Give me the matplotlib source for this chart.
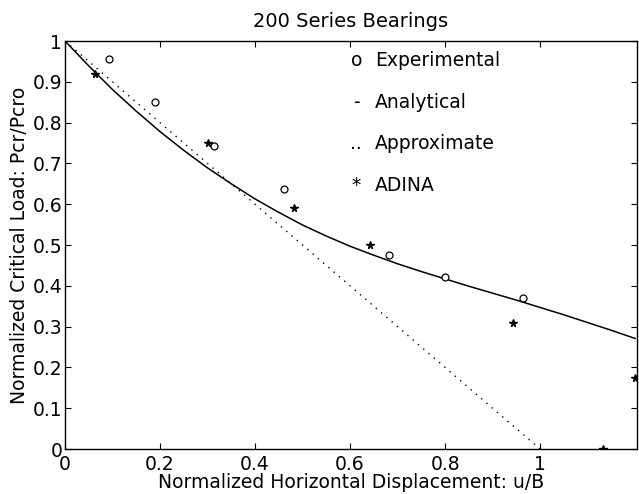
import matplotlib
matplotlib.use("Agg")
import matplotlib.pyplot as plt

plt.rcParams['font.family'] = ['DejaVu Sans']

# Experimental points (open circles)
exp_x = [0.092, 0.189, 0.313, 0.462, 0.683, 0.800, 0.963]
exp_y = [0.956, 0.850, 0.743, 0.637, 0.476, 0.422, 0.369]

# ADINA points (stars)
adina_x = [0.0625, 0.302, 0.481, 0.642, 0.942, 1.20, 1.133]
adina_y = [0.919, 0.751, 0.590, 0.500, 0.310, 0.175, 0.0]

# Analytical curve (solid), every 0.05
anal_x = [0.0, 0.05, 0.1, 0.15, 0.2, 0.25, 0.3, 0.35, 0.4, 0.45, 0.5, 0.55,
          0.6, 0.65, 0.7, 0.75, 0.8, 0.85, 0.9, 0.95, 1.0, 1.05, 1.1, 1.15, 1.2]
anal_y = [1.000, 0.939, 0.881, 0.828, 0.778, 0.732, 0.689, 0.650, 0.613,
          0.580, 0.549, 0.522, 0.497, 0.475, 0.454, 0.435, 0.417, 0.399,
          0.382, 0.365, 0.347, 0.329, 0.310, 0.291, 0.271]

# Approximate line (dotted)
approx_x = [0.0, 1.0]
approx_y = [1.0, 0.0]

legend_symbols = ['o', '-', '..', '*']
legend_labels = ['Experimental', 'Analytical', 'Approximate', 'ADINA']

xticks = [0, 0.2, 0.4, 0.6, 0.8, 1.0]
xtick_labels = ['0', '0.2', '0.4', '0.6', '0.8', '1']
yticks = [0, 0.1, 0.2, 0.3, 0.4, 0.5, 0.6, 0.7, 0.8, 0.9, 1.0]
ytick_labels = ['0', '0.1', '0.2', '0.3', '0.4', '0.5', '0.6', '0.7', '0.8', '0.9', '1']

fig = plt.figure(figsize=(6.39, 4.94), dpi=100)
ax = fig.add_axes([0.1017, 0.091, 0.8952, 0.826])

ax.plot(anal_x, anal_y, color='black', linewidth=1.1)
ax.plot(approx_x, approx_y, color='black', linewidth=1.0, linestyle=(0, (1, 4)))
ax.plot(exp_x, exp_y, linestyle='none', marker='o', markersize=5,
        markerfacecolor='white', markeredgecolor='black', markeredgewidth=0.9)
ax.plot(adina_x, adina_y, linestyle='none', marker='*', markersize=5.5,
        color='black')

ax.set_xlim(0, 1.204)
ax.set_ylim(0, 1)
ax.set_xticks(xticks)
ax.set_xticklabels(xtick_labels)
ax.set_yticks(yticks)
ax.set_yticklabels(ytick_labels)
ax.tick_params(direction='in', length=4, width=0.8, top=True, right=True,
               labelsize=13.5)
ax.tick_params(axis='y', pad=2)
ax.tick_params(axis='x', pad=4)
for s in ax.spines.values():
    s.set_linewidth(1.0)

ax.set_title('200 Series Bearings', fontsize=14, pad=10)
ax.set_xlabel('Normalized Horizontal Displacement: u/B', fontsize=13.5)
ax.xaxis.set_label_coords(0.5, -0.058)
ax.xaxis.label.set_va('top')
ax.set_ylabel('Normalized Critical Load: Pcr/Pcro', fontsize=13.5)
ax.yaxis.set_label_coords(-0.079, 0.5)
ax.yaxis.label.set_va('center')

# MATLAB-style text legend
row_y = [0.953, 0.850, 0.748, 0.645]
for sym, lab, yy in zip(legend_symbols, legend_labels, row_y):
    ax.text(0.613, yy, sym, ha='center', va='center', fontsize=13.5)
    ax.text(0.653, yy, lab, ha='left', va='center', fontsize=13.5)

fig.savefig('out.png', dpi=100)
